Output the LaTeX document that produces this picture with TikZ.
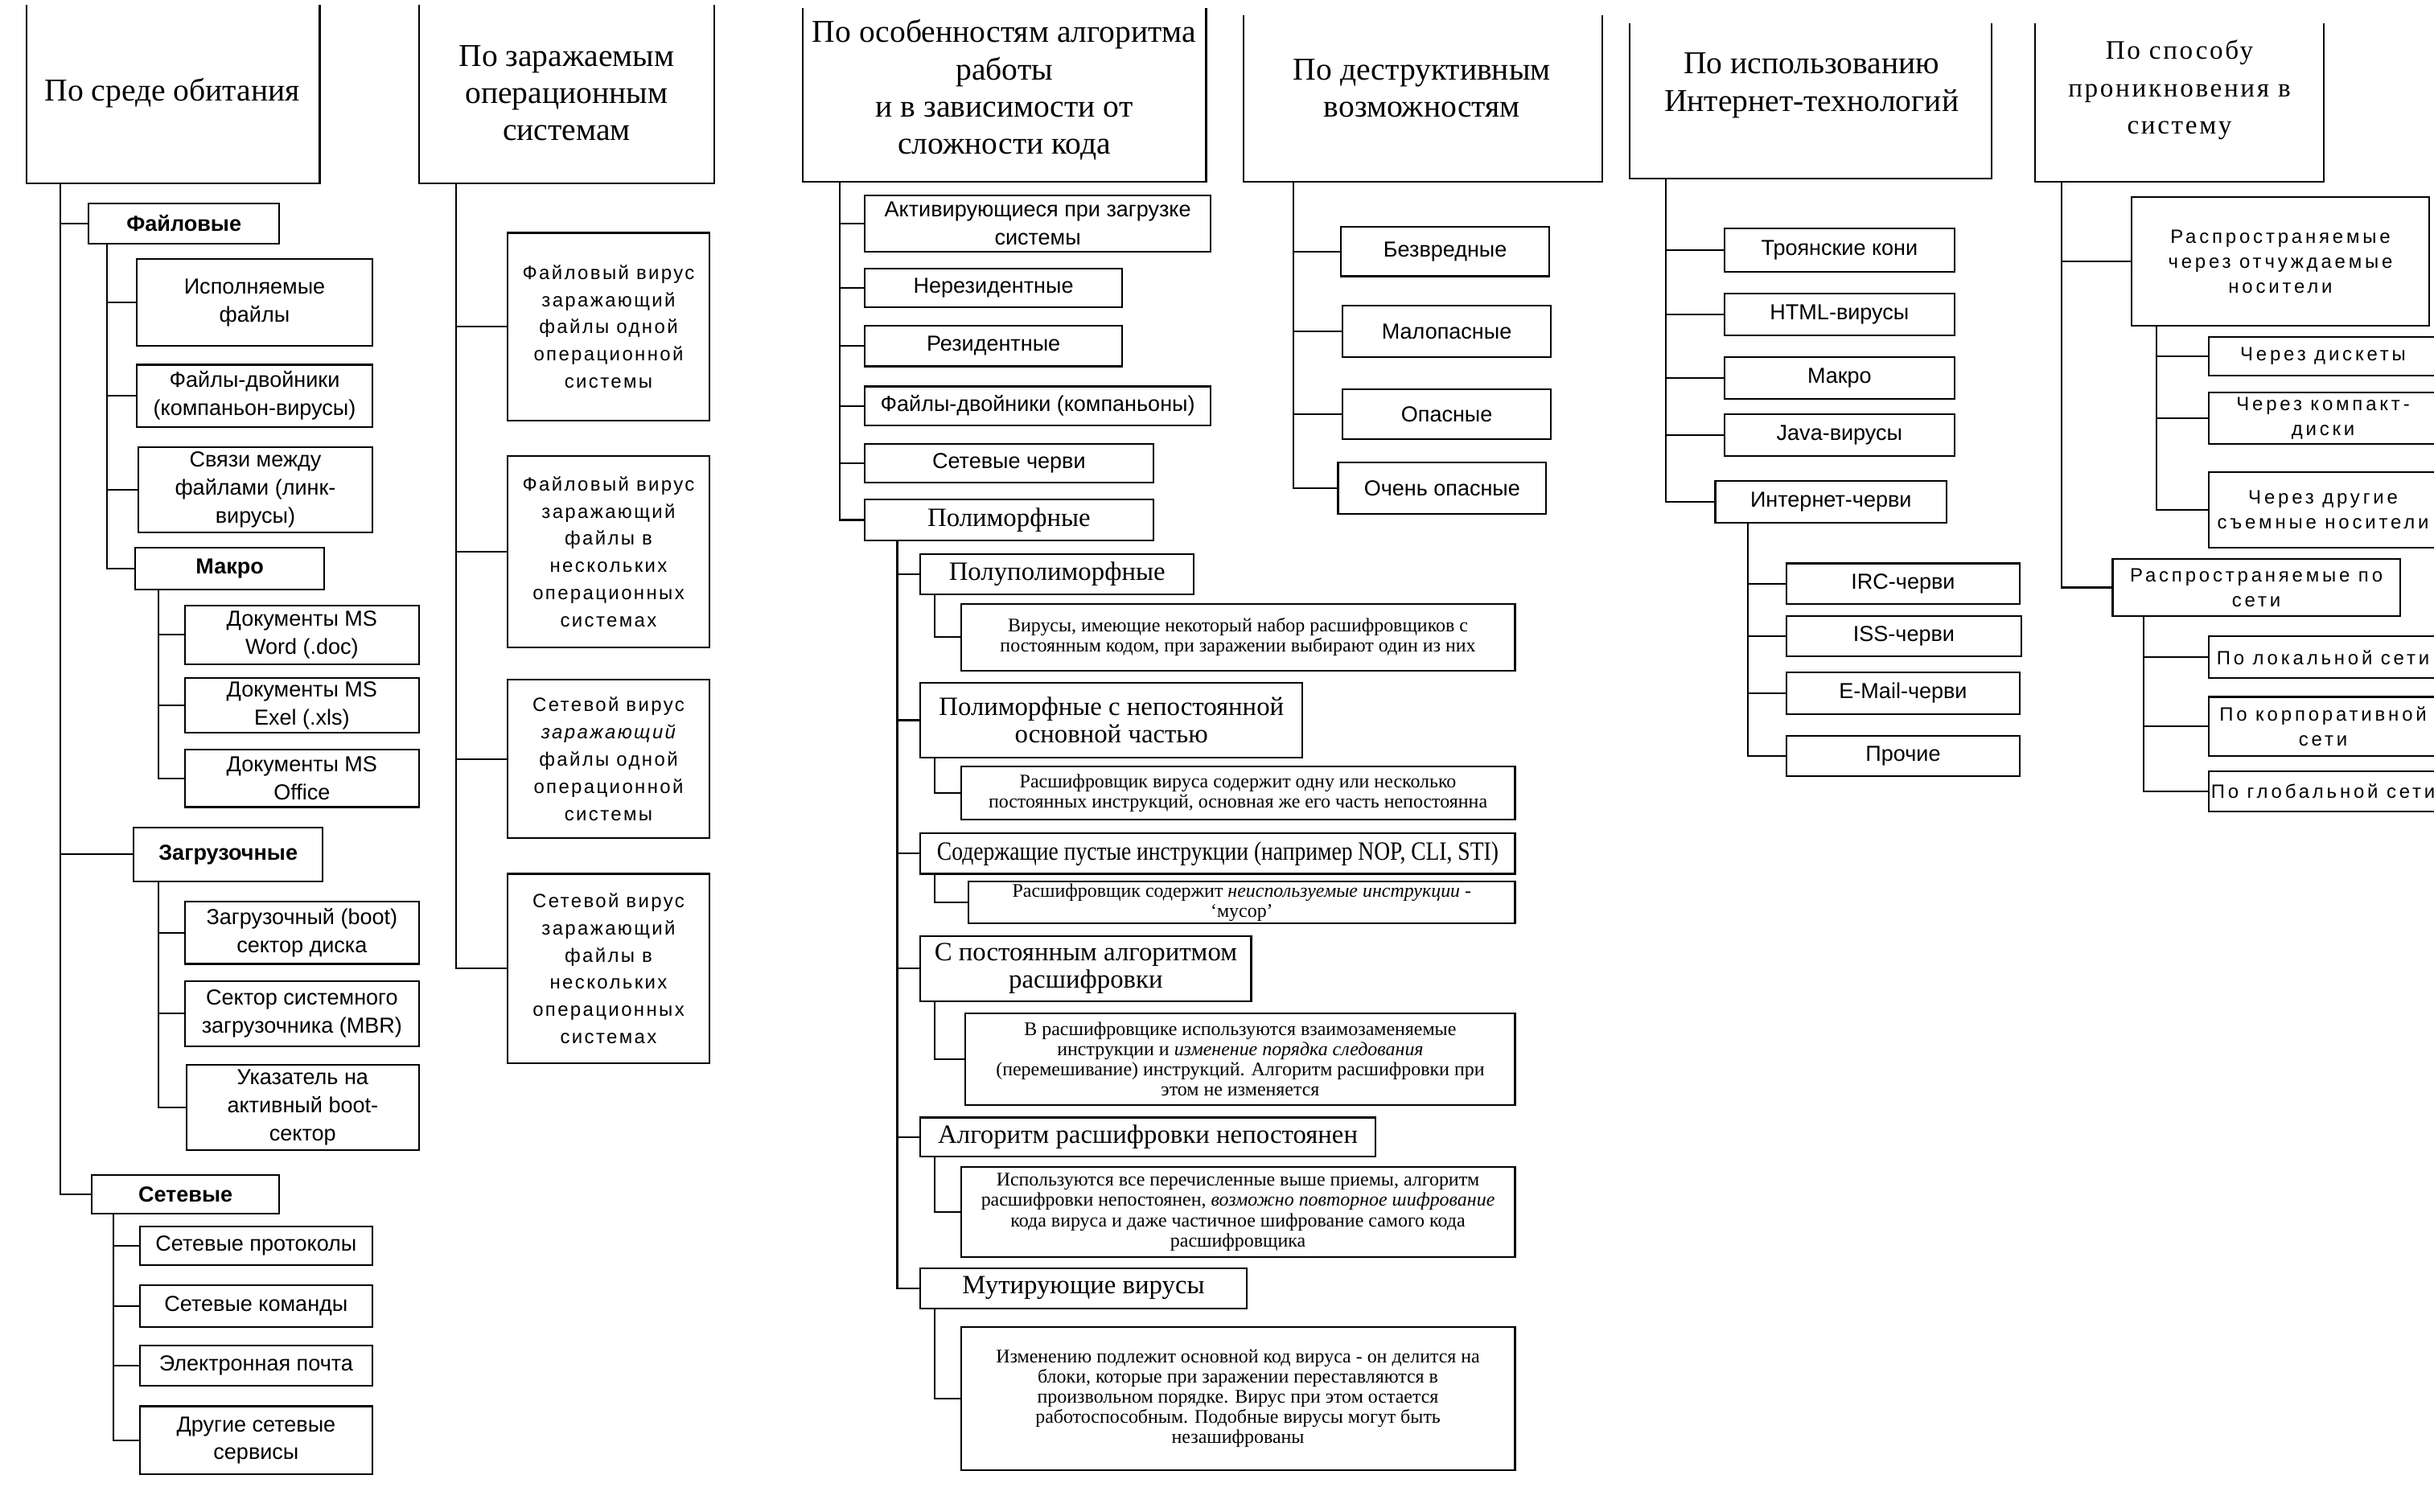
\documentclass[tikz,border=0pt]{standalone}
\usepackage{graphicx}
\usepackage{fontspec}
\setmainfont{Liberation Serif}
\newfontfamily\arial{Liberation Sans}
\newfontfamily\arialw[LetterSpace=10]{Liberation Sans}
\newfontfamily\arialv[LetterSpace=16]{Liberation Sans}
\newfontfamily\serifw[LetterSpace=8]{Liberation Serif}
\newcommand\bx[7]{\node[#6, minimum width={(#4-#2)*0.5pt}, minimum height={(#5-#3)*0.5pt}] (#1) at ({(#2+#4)/2},{(#3+#5)/2}) {#7};}
\newcommand\hframe[1]{\draw (#1.north west) -- (#1.south west) -- (#1.south east) -- (#1.north east);}
\begin{document}
\begin{tikzpicture}[x=0.5pt,y=-0.5pt, line width=0.55pt,
 box/.style={draw, inner sep=0pt, outer sep=0pt, align=center, font=\arial\fontsize{7}{9}\selectfont},
 boxb/.style={box, font=\arial\bfseries\fontsize{7}{9}\selectfont},
 boxw/.style={box, font=\arialw\fontsize{6.2}{8.75}\selectfont},
 boxv/.style={box, font=\arialv\fontsize{6.2}{8}\selectfont},
 lab/.style={box, font=\fontsize{8.5}{8.7}\selectfont},
 desc/.style={box, font=\fontsize{6.2}{6.5}\selectfont},
 frame/.style={inner sep=0pt, outer sep=0pt},
 htext/.style={align=center, inner sep=0pt, font=\fontsize{10.25}{12}\selectfont}]
\fill[white] (0,0) rectangle (1568,973.7);
\useasboundingbox (0,0) rectangle (1568,973.7);

% ---------- headers ----------
\bx{h1}{17}{3}{206}{118}{frame}{}
\bx{h2}{270}{3}{460}{118}{frame}{}
\bx{h3}{517}{5}{777}{117}{frame}{}
\bx{h4}{801}{10}{1032}{117}{frame}{}
\bx{h5}{1050}{15}{1283}{115}{frame}{}
\bx{h6}{1311}{15}{1497}{117}{frame}{}
\foreach \h in {h1,h2,h3,h4,h5,h6} {\hframe{\h}}
\node[htext] (h1t) at (111,60) {По среде обитания};
\node[htext] (h2t) at (365,60) {По заражаемым\\операционным\\системам};
\node[htext] (h3t) at (647,58) {По особенностям алгоритма\\работы\\и в зависимости от\\сложности кода};
\node[htext] (h4t) at (916,57) {По деструктивным\\возможностям};
\node[htext] (h5t) at (1167,55) {По использованию\\Интернет-технологий};
\node[htext, font=\serifw\fontsize{8.6}{12}\selectfont] (h6t) at (1404,58) {По способу\\проникновения в\\систему};

% trunk x positions
\coordinate (t1) at (39,0);
\coordinate (t2) at (294,0);
\coordinate (t3) at (541,0);
\coordinate (t4) at (833,0);
\coordinate (t5) at (1073,0);
\coordinate (t6) at (1328,0);

% ---------- column 1 ----------
\bx{c1a}{57}{131}{180}{157}{boxb}{Файловые}
\bx{c1a1}{88}{167}{240}{223}{box}{Исполняемые\\файлы}
\bx{c1a2}{88}{235}{240}{275}{box}{Файлы-двойники\\(компаньон-вирусы)}
\bx{c1a3}{89}{288}{240}{343}{box}{Связи между\\файлами (линк-\\вирусы)}
\bx{c1a4}{87}{353}{209}{380}{boxb}{Макро}
\bx{c1a41}{119}{390}{270}{428}{box}{Документы MS\\Word (.doc)}
\bx{c1a42}{119}{437}{270}{472}{box}{Документы MS\\Exel (.xls)}
\bx{c1a43}{119}{483}{270}{520}{box}{Документы MS\\Office}
\bx{c1b}{86}{533}{208}{568}{boxb}{Загрузочные}
\bx{c1b1}{119}{581}{270}{621}{box}{Загрузочный (boot)\\сектор диска}
\bx{c1b2}{119}{632}{270}{674}{box}{Сектор системного\\загрузочника (MBR)}
\bx{c1b3}{120}{686}{270}{741}{box}{Указатель на\\активный boot-\\сектор}
\bx{c1c}{59}{757}{180}{782}{boxb}{Сетевые}
\bx{c1c1}{90}{790}{240}{815}{box}{Сетевые протоколы}
\bx{c1c2}{90}{828}{240}{855}{box}{Сетевые команды}
\bx{c1c3}{90}{867}{240}{893}{box}{Электронная почта}
\bx{c1c4}{90}{906}{240}{950}{box}{Другие сетевые\\сервисы}
\coordinate (s1a) at (69,0);
\coordinate (s1m) at (102,0);
\coordinate (s1c) at (73,0);
\foreach \c in {c1a,c1b,c1c} {\draw (h1.south -| t1) |- (\c.west);}
\foreach \c in {c1a1,c1a2,c1a3,c1a4} {\draw (c1a.south -| s1a) |- (\c.west);}
\foreach \c in {c1a41,c1a42,c1a43} {\draw (c1a4.south -| s1m) |- (\c.west);}
\foreach \c in {c1b1,c1b2,c1b3} {\draw (c1b.south -| s1m) |- (\c.west);}
\foreach \c in {c1c1,c1c2,c1c3,c1c4} {\draw (c1c.south -| s1c) |- (\c.west);}

% ---------- column 2 ----------
\bx{c2a}{327}{150}{457}{271}{boxw}{Файловый вирус\\заражающий\\файлы одной\\операционной\\системы}
\bx{c2b}{327}{294}{457}{417}{boxw}{Файловый вирус\\заражающий\\файлы в\\нескольких\\операционных\\системах}
\bx{c2c}{327}{438}{457}{540}{boxw}{Сетевой вирус\\{\itshape заражающий}\\файлы одной\\операционной\\системы}
\bx{c2d}{327}{563}{457}{685}{boxw}{Сетевой вирус\\заражающий\\файлы в\\нескольких\\операционных\\системах}
\foreach \c in {c2a,c2b,c2c,c2d} {\draw (h2.south -| t2) |- (\c.west);}

% ---------- column 3 ----------
\bx{c3a}{557}{126}{780}{162}{box}{Активирующиеся при загрузке\\системы}
\bx{c3b}{557}{173}{723}{198}{box}{Нерезидентные}
\bx{c3c}{557}{210}{723}{236}{box}{Резидентные}
\bx{c3d}{557}{249}{780}{274}{box}{Файлы-двойники (компаньоны)}
\bx{c3e}{557}{286}{743}{311}{box}{Сетевые черви}
\bx{c3f}{557}{322}{743}{348}{lab}{Полиморфные}
\foreach \c in {c3a,c3b,c3c,c3d,c3e,c3f} {\draw (h3.south -| t3) |- (\c.west);}
\bx{p1}{593}{357}{769}{383}{lab}{Полуполиморфные}
\bx{d1}{619}{389}{976}{432}{desc}{Вирусы, имеющие некоторый набор расшифровщиков с\\постоянным кодом, при заражении выбирают один из них}
\bx{p2}{593}{440}{839}{488}{lab}{Полиморфные с непостоянной\\основной частью}
\bx{d2}{619}{494}{976}{528}{desc}{Расшифровщик вируса содержит одну или несколько\\постоянных инструкций, основная же его часть непостоянна}
\bx{p3}{593}{537}{976}{563}{lab}{\scalebox{0.84}[1]{Содержащие пустые инструкции (например NOP, CLI, STI)}}
\bx{d3}{624}{568}{976}{595}{desc}{Расшифровщик содержит {\itshape неиспользуемые инструкции} -\\‘мусор’}
\bx{p4}{593}{603}{806}{645}{lab}{С постоянным алгоритмом\\расшифровки}
\bx{d4}{622}{653}{976}{712}{desc}{В расшифровщике используются взаимозаменяемые\\инструкции и {\itshape изменение порядка следования}\\(перемешивание) инструкций. Алгоритм расшифровки при\\этом не изменяется}
\bx{p5}{593}{720}{886}{745}{lab}{Алгоритм расшифровки непостоянен}
\bx{d5}{619}{752}{976}{810}{desc}{Используются все перечисленные выше приемы, алгоритм\\расшифровки непостоянен, {\itshape возможно повторное шифрование}\\кода вируса и даже частичное шифрование самого кода\\расшифровщика}
\bx{p6}{593}{817}{803}{843}{lab}{Мутирующие вирусы}
\bx{d6}{619}{855}{976}{947}{desc}{Изменению подлежит основной код вируса - он делится на\\блоки, которые при заражении переставляются в\\произвольном порядке. Вирус при этом остается\\работоспособным. Подобные вирусы могут быть\\незашифрованы}
\coordinate (s3) at (578,0);
\coordinate (s3d) at (602,0);
\foreach \c in {p1,p2,p3,p4,p5,p6} {\draw (c3f.south -| s3) |- (\c.west);}
\draw (p1.south -| s3d) |- (d1.west);
\draw (p2.south -| s3d) |- (d2.west);
\draw (p3.south -| s3d) |- (d3.west);
\draw (p4.south -| s3d) |- (d4.west);
\draw (p5.south -| s3d) |- (d5.west);
\draw (p6.south -| s3d) |- (d6.west);

% ---------- column 4 ----------
\bx{c4a}{864}{146}{998}{178}{box}{Безвредные}
\bx{c4b}{865}{197}{999}{230}{box}{Малопасные}
\bx{c4c}{865}{251}{999}{283}{box}{Опасные}
\bx{c4d}{862}{298}{996}{331}{box}{Очень опасные}
\foreach \c in {c4a,c4b,c4c,c4d} {\draw (h4.south -| t4) |- (\c.west);}

% ---------- column 5 ----------
\bx{c5a}{1111}{147}{1259}{175}{box}{Троянские кони}
\bx{c5b}{1111}{189}{1259}{216}{box}{HTML-вирусы}
\bx{c5c}{1111}{230}{1259}{257}{box}{Макро}
\bx{c5d}{1111}{267}{1259}{294}{box}{Java-вирусы}
\bx{c5e}{1105}{310}{1254}{337}{box}{Интернет-черви}
\bx{c5e1}{1151}{363}{1301}{389}{box}{IRC-черви}
\bx{c5e2}{1151}{397}{1302}{423}{box}{ISS-черви}
\bx{c5e3}{1151}{433}{1301}{460}{box}{E-Mail-черви}
\bx{c5e4}{1151}{474}{1301}{500}{box}{Прочие}
\coordinate (s5) at (1126,0);
\foreach \c in {c5a,c5b,c5c,c5d,c5e} {\draw (h5.south -| t5) |- (\c.west);}
\foreach \c in {c5e1,c5e2,c5e3,c5e4} {\draw (c5e.south -| s5) |- (\c.west);}

% ---------- column 6 ----------
\bx{c6a}{1373}{127}{1565}{210}{boxv}{Распространяемые\\через отчуждаемые\\носители}
\bx{c6a1}{1423}{217}{1570}{242}{boxv}{Через дискеты}
\bx{c6a2}{1423}{253}{1570}{286}{boxv}{Через компакт-\\диски}
\bx{c6a3}{1423}{304}{1570}{353}{boxv}{Через другие\\съемные носители}
\bx{c6b}{1361}{360}{1546}{397}{boxv}{Распространяемые по\\сети}
\bx{c6b1}{1423}{410}{1570}{437}{boxv}{По локальной сети}
\bx{c6b2}{1423}{449}{1570}{487}{boxv}{По корпоративной\\сети}
\bx{c6b3}{1423}{497}{1570}{523}{boxv}{По глобальной сети}
\coordinate (s6a) at (1389,0);
\coordinate (s6b) at (1381,0);
\foreach \c in {c6a,c6b} {\draw (h6.south -| t6) |- (\c.west);}
\foreach \c in {c6a1,c6a2,c6a3} {\draw (c6a.south -| s6a) |- (\c.west);}
\foreach \c in {c6b1,c6b2,c6b3} {\draw (c6b.south -| s6b) |- (\c.west);}
\end{tikzpicture}
\end{document}
